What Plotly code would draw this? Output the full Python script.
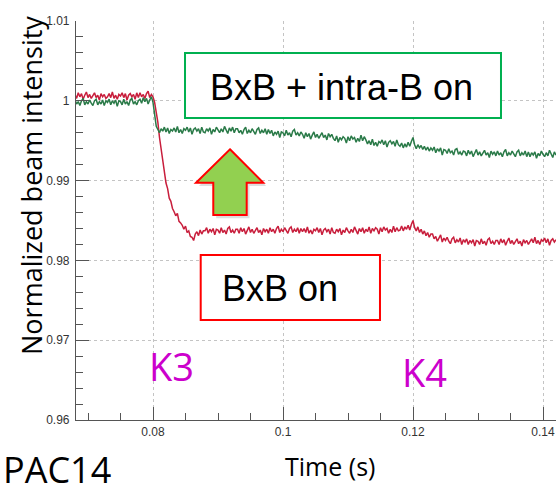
import numpy as np
import plotly.graph_objects as go

# Sampling of the beam-intensity monitor (s)
t_start = 0.0680
t_step = 0.00025

# Normalized intensity with bunch-by-bunch feedback only (20 samples per row = 5 ms)
bxb_on = [
    1.0008, 1.0003, 1.0010, 1.0005, 1.0009, 1.0002, 1.0007, 1.0011, 1.0004, 1.0008,
    1.0003, 1.0006, 1.0010, 1.0004, 1.0007, 1.0001, 1.0009, 1.0005, 1.0008, 1.0003,
    1.0005, 1.0009, 1.0004, 1.0011, 1.0003, 1.0007, 1.0002, 1.0008, 1.0006, 1.0010,
    1.0004, 1.0009, 1.0001, 1.0007, 1.0009, 1.0005, 1.0008, 1.0002, 1.0010, 1.0004,
    1.0010, 1.0005, 1.0008, 1.0003, 1.0009, 1.0012, 1.0004, 1.0008, 1.0005, 0.9998,
    0.9986, 0.9973, 0.9954, 0.9940, 0.9921, 0.9911, 0.9897, 0.9890, 0.9878, 0.9874,
    0.9865, 0.9861, 0.9856, 0.9859, 0.9849, 0.9847, 0.9844, 0.9839, 0.9843, 0.9835,
    0.9837, 0.9830, 0.9829, 0.9825, 0.9833, 0.9836, 0.9831, 0.9838, 0.9833, 0.9837,
    0.9837, 0.9841, 0.9834, 0.9839, 0.9836, 0.9840, 0.9832, 0.9839, 0.9838, 0.9834,
    0.9841, 0.9835, 0.9838, 0.9833, 0.9840, 0.9842, 0.9835, 0.9838, 0.9834, 0.9839,
    0.9839, 0.9834, 0.9841, 0.9836, 0.9840, 0.9833, 0.9838, 0.9842, 0.9835, 0.9839,
    0.9834, 0.9837, 0.9841, 0.9835, 0.9838, 0.9832, 0.9840, 0.9836, 0.9839, 0.9834,
    0.9841, 0.9836, 0.9839, 0.9834, 0.9840, 0.9843, 0.9835, 0.9839, 0.9836, 0.9841,
    0.9837, 0.9834, 0.9840, 0.9842, 0.9835, 0.9839, 0.9836, 0.9841, 0.9834, 0.9840,
    0.9836, 0.9840, 0.9835, 0.9842, 0.9834, 0.9838, 0.9833, 0.9839, 0.9837, 0.9841,
    0.9835, 0.9840, 0.9832, 0.9838, 0.9840, 0.9836, 0.9839, 0.9833, 0.9841, 0.9835,
    0.9834, 0.9839, 0.9836, 0.9840, 0.9832, 0.9838, 0.9835, 0.9841, 0.9837, 0.9834,
    0.9839, 0.9835, 0.9842, 0.9838, 0.9833, 0.9840, 0.9836, 0.9841, 0.9834, 0.9839,
    0.9836, 0.9842, 0.9834, 0.9840, 0.9837, 0.9841, 0.9839, 0.9833, 0.9841, 0.9836,
    0.9842, 0.9838, 0.9840, 0.9834, 0.9839, 0.9835, 0.9843, 0.9836, 0.9841, 0.9837,
    0.9838, 0.9843, 0.9837, 0.9842, 0.9839, 0.9844, 0.9838, 0.9845, 0.9850, 0.9841,
    0.9837, 0.9842, 0.9835, 0.9839, 0.9833, 0.9837, 0.9831, 0.9835, 0.9829, 0.9833,
    0.9833, 0.9827, 0.9830, 0.9824, 0.9829, 0.9832, 0.9823, 0.9828, 0.9825, 0.9829,
    0.9824, 0.9821, 0.9827, 0.9829, 0.9822, 0.9826, 0.9823, 0.9828, 0.9820, 0.9826,
    0.9823, 0.9827, 0.9820, 0.9825, 0.9822, 0.9826, 0.9818, 0.9825, 0.9824, 0.9820,
    0.9827, 0.9821, 0.9824, 0.9819, 0.9826, 0.9828, 0.9821, 0.9824, 0.9820, 0.9825,
    0.9825, 0.9820, 0.9827, 0.9822, 0.9826, 0.9819, 0.9824, 0.9828, 0.9821, 0.9825,
    0.9820, 0.9823, 0.9827, 0.9821, 0.9824, 0.9818, 0.9826, 0.9822, 0.9825, 0.9820,
    0.9823, 0.9827, 0.9822, 0.9829, 0.9821, 0.9825, 0.9820, 0.9826, 0.9824, 0.9828,
    0.9822, 0.9827, 0.9819, 0.9825, 0.9827, 0.9823, 0.9826,
]

# Normalized intensity with bunch-by-bunch + intra-bunch feedback
bxb_intra_on = [
    1.0001, 0.9996, 0.9999, 0.9994, 1.0000, 1.0003, 0.9995, 0.9999, 0.9996, 1.0001,
    0.9997, 0.9994, 1.0000, 1.0002, 0.9995, 0.9999, 0.9996, 1.0001, 0.9994, 1.0000,
    0.9998, 1.0002, 0.9995, 1.0000, 0.9997, 1.0001, 0.9993, 1.0000, 0.9999, 0.9995,
    1.0002, 0.9996, 0.9999, 0.9994, 1.0001, 1.0003, 0.9996, 0.9999, 0.9995, 1.0000,
    1.0002, 0.9997, 1.0004, 0.9999, 1.0003, 0.9996, 1.0001, 1.0005, 0.9998, 0.9984,
    0.9968, 0.9964, 0.9960, 0.9965, 0.9962, 0.9967, 0.9961, 0.9966, 0.9959, 0.9964,
    0.9962, 0.9966, 0.9961, 0.9968, 0.9960, 0.9964, 0.9959, 0.9965, 0.9963, 0.9967,
    0.9961, 0.9966, 0.9958, 0.9964, 0.9966, 0.9962, 0.9965, 0.9959, 0.9967, 0.9961,
    0.9960, 0.9965, 0.9962, 0.9966, 0.9958, 0.9964, 0.9961, 0.9967, 0.9963, 0.9960,
    0.9965, 0.9961, 0.9968, 0.9964, 0.9959, 0.9966, 0.9962, 0.9967, 0.9960, 0.9965,
    0.9965, 0.9960, 0.9963, 0.9958, 0.9964, 0.9967, 0.9959, 0.9963, 0.9960, 0.9965,
    0.9961, 0.9958, 0.9964, 0.9966, 0.9959, 0.9963, 0.9960, 0.9965, 0.9958, 0.9964,
    0.9959, 0.9963, 0.9956, 0.9961, 0.9958, 0.9962, 0.9954, 0.9961, 0.9960, 0.9956,
    0.9963, 0.9957, 0.9960, 0.9955, 0.9962, 0.9964, 0.9957, 0.9960, 0.9956, 0.9961,
    0.9958, 0.9953, 0.9960, 0.9955, 0.9959, 0.9952, 0.9957, 0.9961, 0.9954, 0.9958,
    0.9953, 0.9956, 0.9960, 0.9954, 0.9957, 0.9951, 0.9959, 0.9955, 0.9958, 0.9953,
    0.9950, 0.9956, 0.9948, 0.9954, 0.9951, 0.9955, 0.9953, 0.9947, 0.9955, 0.9950,
    0.9956, 0.9952, 0.9954, 0.9948, 0.9953, 0.9949, 0.9957, 0.9950, 0.9955, 0.9951,
    0.9946, 0.9950, 0.9945, 0.9952, 0.9944, 0.9948, 0.9943, 0.9949, 0.9947, 0.9951,
    0.9945, 0.9950, 0.9942, 0.9948, 0.9950, 0.9946, 0.9949, 0.9943, 0.9951, 0.9945,
    0.9943, 0.9947, 0.9941, 0.9946, 0.9942, 0.9948, 0.9943, 0.9949, 0.9954, 0.9945,
    0.9940, 0.9945, 0.9941, 0.9944, 0.9939, 0.9943, 0.9938, 0.9942, 0.9937, 0.9941,
    0.9938, 0.9942, 0.9935, 0.9940, 0.9937, 0.9941, 0.9932, 0.9939, 0.9938, 0.9934,
    0.9940, 0.9935, 0.9937, 0.9932, 0.9939, 0.9940, 0.9933, 0.9936, 0.9932, 0.9937,
    0.9936, 0.9931, 0.9938, 0.9933, 0.9937, 0.9930, 0.9935, 0.9939, 0.9932, 0.9936,
    0.9931, 0.9934, 0.9938, 0.9932, 0.9935, 0.9929, 0.9937, 0.9933, 0.9936, 0.9931,
    0.9937, 0.9932, 0.9935, 0.9930, 0.9936, 0.9939, 0.9931, 0.9935, 0.9932, 0.9937,
    0.9933, 0.9930, 0.9936, 0.9938, 0.9931, 0.9935, 0.9932, 0.9937, 0.9930, 0.9936,
    0.9930, 0.9935, 0.9932, 0.9936, 0.9928, 0.9934, 0.9931, 0.9937, 0.9933, 0.9930,
    0.9935, 0.9931, 0.9938, 0.9934, 0.9929, 0.9936, 0.9932,
]

time_s = np.round(t_start + t_step * np.arange(len(bxb_on)), 5)

x_range = [0.068154, 0.142]
y_range = [0.96, 1.01]
x_ticks = [0.08, 0.1, 0.12, 0.14]
x_tick_text = ["0.08", "0.1", "0.12", "0.14"]
y_ticks = [0.96, 0.97, 0.98, 0.99, 1.0, 1.01]
y_tick_text = ["0.96", "0.97", "0.98", "0.99", "1", "1.01"]

fig = go.Figure()
fig.add_trace(go.Scatter(x=time_s, y=bxb_on, mode="lines",
                         line=dict(color="#c81e3c", width=1.5), name="BxB on"))
fig.add_trace(go.Scatter(x=time_s, y=bxb_intra_on, mode="lines",
                         line=dict(color="#2a7a48", width=1.5), name="BxB + intra-B on"))

axis_col = "#555555"
grid_col = "#c4c4c4"
tick_font = dict(family="Liberation Sans", size=12, color="#333333")

fig.update_xaxes(range=x_range, tickvals=x_ticks, ticktext=x_tick_text,
                 ticks="inside", ticklen=13, tickcolor=axis_col, tickwidth=1,
                 showline=True, linecolor=axis_col, linewidth=1.2,
                 showgrid=True, gridcolor=grid_col, griddash="dot", gridwidth=1,
                 zeroline=False, tickfont=tick_font,
                 minor=dict(dtick=0.005, tick0=0.08, ticks="inside", ticklen=7,
                            tickcolor=axis_col, showgrid=False))
fig.update_yaxes(range=y_range, tickvals=y_ticks, ticktext=y_tick_text,
                 ticks="inside", ticklen=13, tickcolor=axis_col, tickwidth=1,
                 showline=True, linecolor=axis_col, linewidth=1.2,
                 showgrid=True, gridcolor=grid_col, griddash="dot", gridwidth=1,
                 zeroline=False, tickfont=tick_font, ticklabelstandoff=3,
                 minor=dict(dtick=0.002, tick0=0.96, ticks="inside", ticklen=7,
                            tickcolor=axis_col, showgrid=False))

# Callout arrow (paper coordinates)
arrow_pts = [(0.3208, 0.6784), (0.3902, 0.5947), (0.3556, 0.5947), (0.3556, 0.5138),
             (0.2860, 0.5138), (0.2860, 0.5947), (0.2500, 0.5947)]


def poly_path(pts, dx=0.0, dy=0.0):
    return "M " + " L ".join(f"{x + dx},{y + dy}" for x, y in pts) + " Z"


shapes = [
    dict(type="path", xref="paper", yref="paper", path=poly_path(arrow_pts, 0.006, -0.008),
         fillcolor="rgba(0,0,0,0.13)", line=dict(width=0), layer="above"),
    dict(type="path", xref="paper", yref="paper", path=poly_path(arrow_pts),
         fillcolor="#92d050", line=dict(color="#ff0000", width=2), layer="above"),
    dict(type="rect", xref="paper", yref="paper", x0=0.2271, x1=0.8854, y0=0.7569, y1=0.9198,
         fillcolor="white", line=dict(color="#00b050", width=2), layer="above"),
    dict(type="rect", xref="paper", yref="paper", x0=0.2598, x1=0.6333, y0=0.2506, y1=0.4135,
         fillcolor="white", line=dict(color="#ff0000", width=2), layer="above"),
]

annotations = [
    dict(text="BxB + intra-B on", x=0.5521, y=0.8333, xref="paper", yref="paper",
         showarrow=False, xanchor="center", yanchor="middle",
         font=dict(family="Liberation Sans", size=36, color="black")),
    dict(text="BxB on", x=0.425, y=0.3308, xref="paper", yref="paper",
         showarrow=False, xanchor="center", yanchor="middle",
         font=dict(family="Liberation Sans", size=36, color="black")),
    dict(text="K3", x=0.1994, y=0.1353, xref="paper", yref="paper",
         showarrow=False, xanchor="center", yanchor="middle",
         font=dict(family="Open Sans", size=38, color="#cc00cc")),
    dict(text="K4", x=0.725, y=0.121, xref="paper", yref="paper",
         showarrow=False, xanchor="center", yanchor="middle",
         font=dict(family="Open Sans", size=38, color="#cc00cc")),
    dict(text="Normalized beam intensity", x=-0.0917, y=0.589, xref="paper", yref="paper",
         showarrow=False, xanchor="center", yanchor="middle", textangle=-90,
         font=dict(family="Open Sans", size=27, color="black")),
    dict(text="Time (s)", x=0.5298, y=-0.1165, xref="paper", yref="paper",
         showarrow=False, xanchor="center", yanchor="middle",
         font=dict(family="Open Sans", size=25, color="black")),
    dict(text="PAC14", x=-0.15625, y=-0.1230, xref="paper", yref="paper",
         showarrow=False, xanchor="left", yanchor="middle",
         font=dict(family="Open Sans", size=36, color="black")),
]

fig.update_layout(
    width=556, height=484,
    margin=dict(l=76, r=0, t=21, b=64),
    plot_bgcolor="white", paper_bgcolor="white",
    showlegend=False,
    shapes=shapes, annotations=annotations,
)

fig.write_html("out.html")
